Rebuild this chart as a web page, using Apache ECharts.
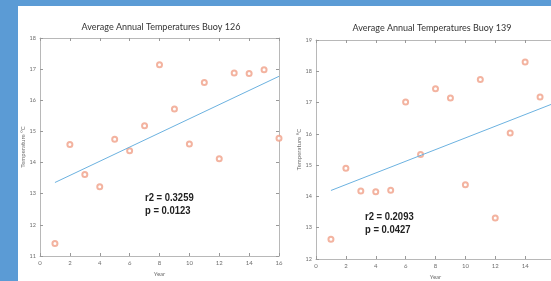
<!DOCTYPE html>
<html>
<head>
<meta charset="utf-8">
<script src="https://cdn.jsdelivr.net/npm/echarts@6/dist/echarts.min.js"></script>
<style>
  html, body { margin: 0; padding: 0; }
  #chart { width: 551px; height: 281px; }
</style>
</head>
<body>
<div id="chart"></div>
<script>
var years126 = [1, 2, 3, 4, 5, 6, 7, 8, 9, 10, 11, 12, 13, 14, 15, 16];
var temps126 = [11.4, 14.58, 13.62, 13.22, 14.75, 14.38, 15.18, 17.14, 15.72, 14.6, 16.57, 14.12, 16.88, 16.86, 16.98, 14.78];
var trend126 = [[1, 13.36], [16, 16.77]];
var stats126 = ['r2 = 0.3259', 'p = 0.0123'];

var years139 = [1, 2, 3, 4, 5, 6, 7, 8, 9, 10, 11, 12, 13, 14, 15];
var temps139 = [12.63, 14.9, 14.17, 14.15, 14.2, 17.02, 15.34, 17.44, 17.15, 14.37, 17.74, 13.31, 16.03, 18.3, 17.18];
var trend139 = [[1, 14.19], [16, 16.99]];
var stats139 = ['r2 = 0.2093', 'p = 0.0427'];

var titles = ['Average Annual Temperatures Buoy 126', 'Average Annual Temperatures Buoy 139'];

var axisGray = '#b8b8b8';
var labelGray = '#6e6e6e';
var dotColor = '#f0a088';
var lineColor = '#6cb2e0';

function pairs(xs, ys) {
    return xs.map(function (x, i) { return [x, ys[i]]; });
}

function xAxes(gi) {
    var base = {
        gridIndex: gi, type: 'value', min: 0, max: 16, interval: 2,
        axisLine: { show: true, onZero: false, lineStyle: { color: axisGray, width: 1 } },
        axisTick: { show: true, inside: true, length: 3, lineStyle: { color: '#999' } },
        splitLine: { show: false }
    };
    return [
        Object.assign({}, base, {
            position: 'bottom',
            name: 'Year', nameLocation: 'middle', nameGap: gi === 0 ? 11 : 13,
            nameTextStyle: { fontSize: 6, color: labelGray, fontFamily: 'Lato' },
            axisLabel: { fontSize: 6, color: labelGray, margin: 4, fontFamily: 'Lato' }
        }),
        Object.assign({}, base, { position: 'top', axisLabel: { show: false } })
    ];
}

function yAxes(gi, min, max) {
    var base = {
        gridIndex: gi, type: 'value', min: min, max: max, interval: 1,
        axisLine: { show: true, onZero: false, lineStyle: { color: axisGray, width: 1 } },
        axisTick: { show: true, inside: true, length: 3, lineStyle: { color: '#999' } },
        splitLine: { show: false }
    };
    return [
        Object.assign({}, base, {
            position: 'left',
            name: 'Temperature °C', nameLocation: 'middle', nameGap: 12, nameRotate: 90,
            nameTextStyle: { fontSize: 6, color: labelGray, fontFamily: 'Lato' },
            axisLabel: { fontSize: 5.5, color: labelGray, margin: 4, fontFamily: 'Lato' }
        }),
        Object.assign({}, base, { position: 'right', axisLabel: { show: false } })
    ];
}

function statText(lines, x, y) {
    return {
        type: 'text', x: x, y: y, scaleX: 0.86,
        style: {
            text: lines.join('\n'),
            font: 'bold 11px "Liberation Sans", Arial, sans-serif',
            fill: '#222', lineHeight: 13
        }
    };
}

var chart = echarts.init(document.getElementById('chart'), null, { renderer: 'canvas' });

chart.setOption({
    backgroundColor: '#5b9bd5',
    animation: false,
    title: [
        { text: titles[0], left: 156, top: 18, textAlign: 'center',
          textStyle: { fontSize: 9, fontWeight: 'normal', color: '#333', fontFamily: 'Lato' } },
        { text: titles[1], left: 427, top: 19, textAlign: 'center',
          textStyle: { fontSize: 9, fontWeight: 'normal', color: '#333', fontFamily: 'Lato' } }
    ],
    graphic: [
        { type: 'rect', left: 18, top: 6, z: -10,
          shape: { width: 540, height: 280 }, style: { fill: '#ffffff' } },
        statText(stats126, 145, 191),
        statText(stats139, 365, 210)
    ],
    grid: [
        { left: 40, top: 38, width: 239, height: 218, outerBoundsMode: 'none' },
        { left: 316, top: 40, width: 239, height: 219, outerBoundsMode: 'none' }
    ],
    xAxis: xAxes(0).concat(xAxes(1)),
    yAxis: yAxes(0, 11, 18).concat(yAxes(1, 12, 19)),
    series: [
        { type: 'scatter', xAxisIndex: 0, yAxisIndex: 0, data: pairs(years126, temps126),
          symbol: 'emptyCircle', symbolSize: 5,
          itemStyle: { color: dotColor, borderColor: dotColor, borderWidth: 0.7 } },
        { type: 'line', xAxisIndex: 0, yAxisIndex: 0, data: trend126, symbol: 'none',
          lineStyle: { color: lineColor, width: 1 } },
        { type: 'scatter', xAxisIndex: 2, yAxisIndex: 2, data: pairs(years139, temps139),
          symbol: 'emptyCircle', symbolSize: 5,
          itemStyle: { color: dotColor, borderColor: dotColor, borderWidth: 0.7 } },
        { type: 'line', xAxisIndex: 2, yAxisIndex: 2, data: trend139, symbol: 'none',
          lineStyle: { color: lineColor, width: 1 } }
    ]
});
</script>
</body>
</html>
